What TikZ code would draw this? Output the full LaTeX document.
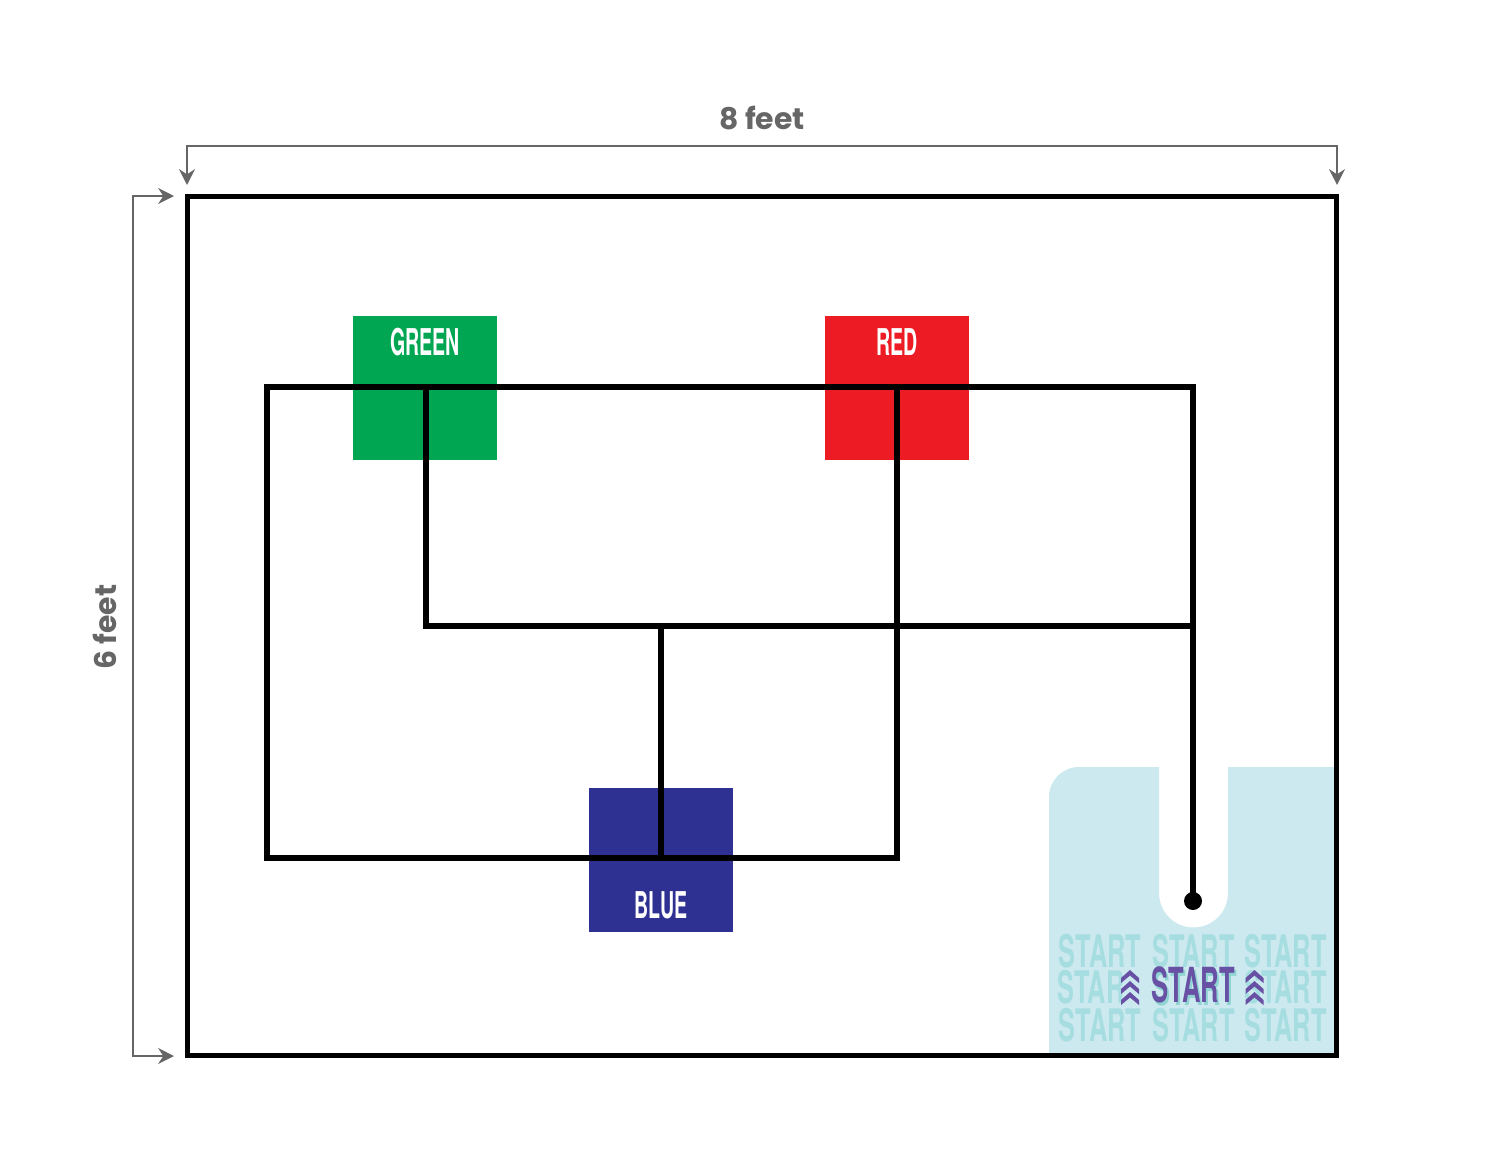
\documentclass[tikz,border=0pt]{standalone}
\usepackage{fontspec}
\usepackage{graphicx}
\usetikzlibrary{arrows.meta}
\newfontfamily\dimfont{Poppins}
\newfontfamily\labfont{TeX Gyre Heros}
\definecolor{dimgray}{HTML}{666666}
\definecolor{mgreen}{HTML}{00A651}
\definecolor{mred}{HTML}{ED1C24}
\definecolor{mblue}{HTML}{2E3192}
\definecolor{startbg}{HTML}{CBE9EE}
\definecolor{startline}{HTML}{A6DDE0}
\definecolor{startpurple}{HTML}{6850A4}
\definecolor{startshadow}{HTML}{8FD3D3}
\newcommand{\condtext}[1]{\scalebox{0.53}[1]{#1}}
\newcommand{\ghosttext}[1]{\scalebox{0.565}[1]{#1}}
\tikzset{
  dimline/.style={draw=dimgray, line width=1.1pt},
  dimlabel/.style={text=dimgray, font=\dimfont\bfseries\fontsize{17}{17}\selectfont, inner sep=0pt},
  border/.style={draw=black, line width=2.9pt},
  track/.style={draw=black, line width=3.4pt, line cap=rect},
  colorbox/.style={minimum width=2.88cm, minimum height=2.88cm, inner sep=0pt, draw=none},
  boxlabel/.style={text=white, font=\labfont\bfseries\fontsize{21}{21}\selectfont, inner sep=0pt},
  ghost/.style={text=startline, font=\labfont\bfseries\fontsize{25.5}{25.5}\selectfont, inner sep=0pt},
  startword/.style={font=\labfont\bfseries\fontsize{27.5}{27.5}\selectfont, inner sep=0pt},
  chevron/.style={fill=startpurple, draw=none}
}
\begin{document}
\begin{tikzpicture}[x=0.02cm,y=-0.02cm]
\useasboundingbox (0,0) rectangle (1500,1160);

% start zone
\fill[startbg] (1049,1056) -- (1049,797) arc[start angle=180,end angle=90,radius=0.6cm] -- (1159,767) -- (1159,893)
  arc[start angle=180,end angle=360,radius=0.69cm] -- (1228,767) -- (1335,767) -- (1335,1056) -- cycle;

% ghost START rows
\foreach \yy [count=\r] in {951.5,1025} {
  \foreach \xx [count=\c] in {1100,1193.5,1285.5} {
    \node[ghost] (ghost-\r-\c) at (\xx,\yy) {\ghosttext{START}};
  }
}
\node[ghost, anchor=west] (ghostmidl) at (1057.5,987.5) {\ghosttext{STAR}};
\node[ghost] (ghostmidr) at (1285.5,987.5) {\ghosttext{START}};

% central START
\node[startword] (startlbl) at (1193.5,986) {\rlap{\hspace{1.1pt}\raisebox{-1.7pt}{\textcolor{startshadow}{\condtext{START}}}}\textcolor{startpurple}{\condtext{START}}};
\foreach \cx in {1130,1254.5} {
  \foreach \cy in {970,981,992} {
    \fill[chevron] (\cx-9,\cy+8) -- (\cx,\cy) -- (\cx+9,\cy+8) -- (\cx+9,\cy+13) -- (\cx,\cy+5.5) -- (\cx-9,\cy+13) -- cycle;
  }
}

% colored squares
\node[colorbox, fill=mgreen] (green) at (425,388) {};
\node[colorbox, fill=mred] (red) at (897,388) {};
\node[colorbox, fill=mblue] (blue) at (661,859.5) {};
\node[boxlabel] (greenlbl) at (425,342) {\condtext{GREEN}};
\node[boxlabel] (redlbl) at (897,342) {\condtext{RED}};
\node[boxlabel] (bluelbl) at (661,905) {\condtext{BLUE}};

% track coordinates
\coordinate (tl) at (267,387);
\coordinate (gtop) at (426,387);
\coordinate (rtop) at (897,387);
\coordinate (tr) at (1193,387);
\coordinate (bl) at (267,858);
\coordinate (bmid) at (661,858);
\coordinate (br) at (897,858);
\coordinate (gmid) at (426,626);
\coordinate (bjoin) at (661,626);
\coordinate (rjoin) at (1193,626);
\coordinate (startpt) at (1193,901);

\draw[track] (tl) -- (tr) -- (rjoin) -- (startpt);
\draw[track] (tl) -- (bl) -- (br) -- (rtop);
\draw[track] (gtop) -- (gmid) -- (rjoin);
\draw[track] (bjoin) -- (bmid);
\fill[black] (startpt) circle[radius=0.18cm];

% board border
\node[border, minimum width=23cm, minimum height=17.2cm, inner sep=0pt] (board) at (762,626) {};

% dimensions
\coordinate (ta) at (187,185);
\coordinate (tb) at (187,146);
\coordinate (tc) at (1337,146);
\coordinate (td) at (1337,185);
\draw[dimline, {Stealth[length=9pt,width=9pt]}-{Stealth[length=9pt,width=9pt]}] (ta) -- (tb) -- (tc) -- (td);
\coordinate (la) at (174,196);
\coordinate (lb) at (133,196);
\coordinate (lc) at (133,1056);
\coordinate (ld) at (174,1056);
\draw[dimline, {Stealth[length=9pt,width=9pt]}-{Stealth[length=9pt,width=9pt]}] (la) -- (lb) -- (lc) -- (ld);
\node[dimlabel] (wlbl) at (762,118) {8 feet};
\node[dimlabel, rotate=90] (hlbl) at (105,627) {6 feet};
\end{tikzpicture}
\end{document}
